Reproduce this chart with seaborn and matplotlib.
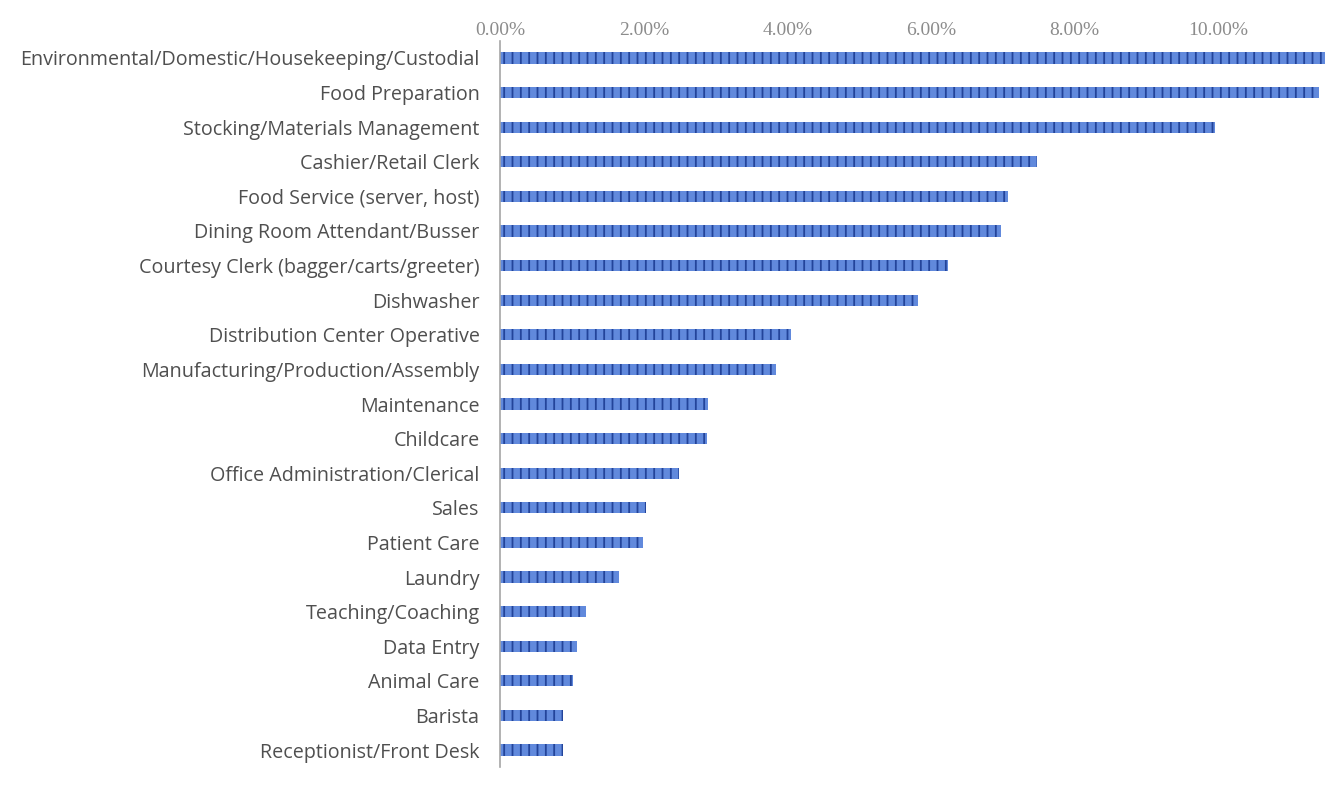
import numpy as np
import pandas as pd
import seaborn as sns
import matplotlib.pyplot as plt
from matplotlib.ticker import FuncFormatter

# job categories and share of placements (%)
jobs = [
    "Environmental/Domestic/Housekeeping/Custodial",
    "Food Preparation",
    "Stocking/Materials Management",
    "Cashier/Retail Clerk",
    "Food Service (server, host)",
    "Dining Room Attendant/Busser",
    "Courtesy Clerk (bagger/carts/greeter)",
    "Dishwasher",
    "Distribution Center Operative",
    "Manufacturing/Production/Assembly",
    "Maintenance",
    "Childcare",
    "Office Administration/Clerical",
    "Sales",
    "Patient Care",
    "Laundry",
    "Teaching/Coaching",
    "Data Entry",
    "Animal Care",
    "Barista",
    "Receptionist/Front Desk",
]
share = [11.60, 11.40, 9.96, 7.47, 7.07, 6.97, 6.23, 5.82, 4.05, 3.84,
         2.89, 2.88, 2.49, 2.03, 1.99, 1.65, 1.19, 1.07, 1.01, 0.87, 0.87]
tick_vals = [0, 2, 4, 6, 8, 10]

df = pd.DataFrame({"job": jobs, "share": share})

sns.set_theme(style="white")
plt.rcParams["font.family"] = ["Open Sans", "DejaVu Sans"]
plt.rcParams["hatch.color"] = "#23449a"
plt.rcParams["hatch.linewidth"] = 1.3

fig = plt.figure(figsize=(13.25, 7.9), dpi=100)
ax = fig.add_axes([0.3777, 0.0287, 0.6223, 0.9198])

sns.barplot(
    data=df,
    x="share",
    y="job",
    orient="h",
    width=0.32,
    color="#6189dc",
    saturation=1,
    linewidth=0,
    ax=ax,
)
# striped fill like the original
for p in ax.patches:
    p.set_hatch("||")
    p.set_edgecolor("#23449a")
    p.set_linewidth(0)

ax.set_xlim(0, 11.49)
ax.set_ylim(len(jobs) - 0.5, -0.5)
ax.xaxis.tick_top()
ax.set_xticks(tick_vals)
ax.xaxis.set_major_formatter(FuncFormatter(lambda v, _: f"{v:.2f}%"))
ax.tick_params(axis="x", length=0, pad=1.5, labelsize=14, labelcolor="#8c8c8c")
for lab in ax.get_xticklabels():
    lab.set_fontfamily("Liberation Serif")
ax.tick_params(axis="y", length=0, pad=15, labelsize=14.2, labelcolor="#4f4f4f")

ax.set_xlabel("")
ax.set_ylabel("")
for s in ["top", "right", "bottom"]:
    ax.spines[s].set_visible(False)
ax.spines["left"].set_color("#a6a6a6")
ax.spines["left"].set_linewidth(1.2)
ax.grid(False)

fig.savefig("out.png", dpi=100)
